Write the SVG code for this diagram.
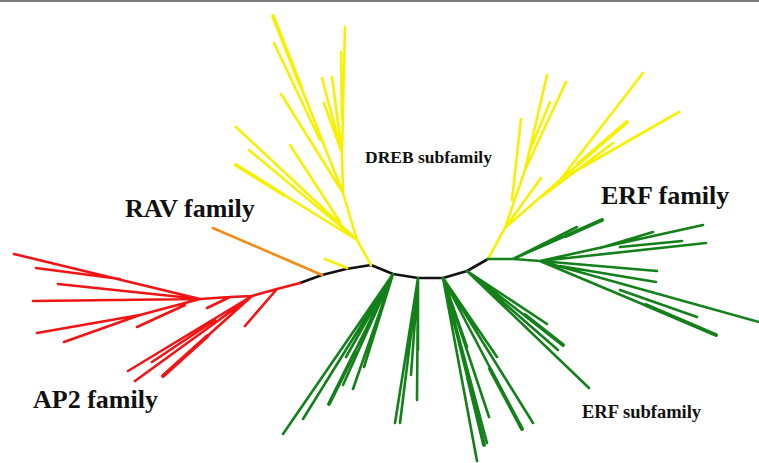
<svg xmlns="http://www.w3.org/2000/svg" width="759" height="463" viewBox="0 0 759 463">
<style>
.br{fill:none;stroke-width:2.6;stroke-linecap:round;stroke-linejoin:round}
.th{stroke-width:3.8}
.red{stroke:#F21414}
.yel{stroke:#F7F000}
.grn{stroke:#13801A}
.org{stroke:#F58A12}
.blk{stroke:#111}
.lbl{font-family:"Liberation Serif","Times New Roman",serif;font-weight:bold;fill:#111}
</style>
<rect x="0" y="0" width="759" height="463" fill="#fff"/>
<rect x="0" y="0" width="759" height="2" fill="#7a7a7a"/>
<g id="backbone">
<path class="br blk" d="M300 283 L322 275 L346 269 L371 265 L393 274 L418 278 L443 278 L467 271 L488 259"/>
</g>
<g id="rav-clade">
<path class="br org" d="M322 275 L213 228"/>
</g>
<g id="ap2-clade">
<path class="br red" d="M300 283 L277 289 L252 296 L230 297 L200 299
M277 289 L245 326
M230 297 L207 308
M200 299 L14 254
M120 279 L36 268
M200 299 L58 284
M200 299 L33 301
M200 299 L140 315 L37 333
M140 315 L64 342
M185 305 L137 327
M252 296 L128 371
M252 296 L135 381
M215 320 L152 362
M252 296 L163 376"/>
<path class="br red th" d="M207.5 336 L163 376"/>
</g>
<g id="dreb-clade">
<path class="br yel" d="M371 265 L357 240 L343 193
M325 259 L347 268
M357 240 L236 127
M357 240 L249 150
M340 222 L290 145
M343 193 L273 16
M320 140 L274 43
M343 193 L281 94
M343 193 L342 153 L345 27
M342 153 L322 78
M342 153 L332 77
M342 153 L324 103
M342 120 L341 52
M357 240 L236 165"/>
<path class="br yel th" d="M284 195 L236 165 M301 87 L273 16"/>
<path class="br yel" d="M488 259 L505 228 L525 170 L547 75
M525 170 L566 82
M512 200 L521 119
M530 150 L550 102
M505 228 L541 178
M505 228 L560 180 L643 73
M560 180 L679 112
M540 198 L613 143
M505 228 L627 122"/>
<path class="br yel th" d="M578 164 L627 122"/>
</g>
<g id="erf-clade">
<path class="br grn" d="M488 259 L513 259 L540 261
M513 259 L577 227
M513 259 L602 220
M540 261 L703 225
M600 248 L653 232
M540 261 L706 243
M620 247 L682 241
M540 261 L657 271
M560 266 L656 282
M540 261 L759 322
M620 290 L697 317
M540 261 L716 335
M467 271 L547 324
M467 271 L558 350
M467 271 L563 345
M467 271 L589 388
M443 278 L497 357
M443 278 L533 423
M443 278 L522 429
M443 278 L467 347
M443 278 L489 417
M443 278 L477 461
M443 278 L487 443
M443 278 L484 445
M418 278 L395 423
M418 278 L400 423
M418 278 L417 400
M418 278 L411 375
M418 278 L418 350
M393 274 L283 434
M393 274 L303 419
M393 274 L329 404
M393 274 L343 385
M393 274 L353 389
M393 274 L364 367
M393 274 L346 357"/>
<path class="br grn th" d="M566 236 L602 220
M646 305 L716 335
M525 315 L563 345
M490 369 L522 429
M468 378 L484 445
M355 352 L329 404"/>
</g>
<g id="labels">
<text class="lbl" x="125" y="217" font-size="26">RAV family</text>
<text class="lbl" x="601" y="204" font-size="26">ERF family</text>
<text class="lbl" x="33" y="408" font-size="26">AP2 family</text>
<text class="lbl" x="365" y="163" font-size="17.5">DREB subfamily</text>
<text class="lbl" x="582" y="418" font-size="18.5">ERF subfamily</text>
</g>
</svg>
